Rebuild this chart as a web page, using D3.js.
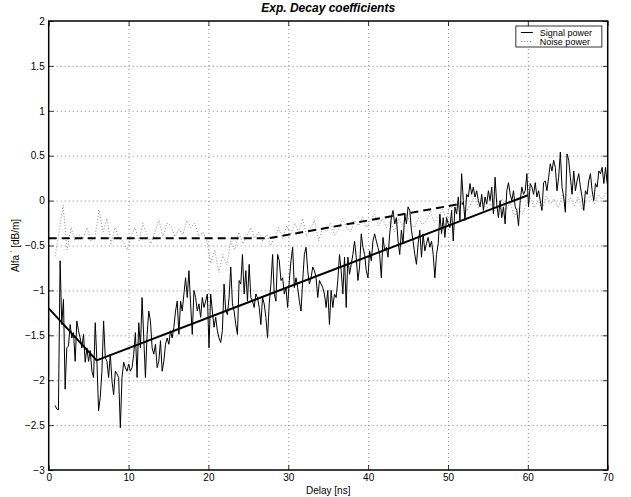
<!DOCTYPE html>
<html>
<head>
<meta charset="utf-8">
<script src="https://cdn.jsdelivr.net/npm/d3@7"></script>
<style>
  body { margin: 0; background: #fff; }
  svg { font-family: "Liberation Sans", Arial, Helvetica, sans-serif; }
  .grid line { stroke: #7a7a7a; stroke-dasharray: 1,3; stroke-width: 0.9; }
  .grid .domain { display: none; }
  .axis .domain { display: none; }
  .axis line { stroke: #000; stroke-width: 0.8; }
  .axis text { font-size: 10px; fill: #000; }
</style>
</head>
<body>
<div id="chart"></div>
<script>
// Axis ticks
const xTicks = [0, 10, 20, 30, 40, 50, 60, 70];
const yTicks = [-3, -2.5, -2, -1.5, -1, -0.5, 0, 0.5, 1, 1.5, 2];

// Signal power (sampled every signalStep ns starting at signalStart)
const signalStart = 0.8;
const signalStep = 0.2095;
const signalPower = [
  -2.28, -2.32, -2.33, -0.67, -1.38, -1.10, -2.10, -1.64, -1.62, -1.38,
  -1.53, -1.47, -1.79, -1.34, -1.45,
  -1.53, -1.64, -1.49, -1.80, -1.64, -1.79, -1.67, -1.90, -1.97, -1.36,
  -1.79, -2.34, -2.19, -1.90, -1.34, -1.75, -1.79, -1.97, -1.71, -2.01,
  -2.16, -1.90, -1.93, -1.97, -2.53, -1.97, -1.80, -1.86, -1.90, -1.82,
  -1.90, -1.86, -1.71, -1.47, -1.97, -1.36, -1.64, -1.08, -1.53, -1.97,
  -1.49, -1.23, -1.34, -1.64, -1.71, -1.60, -1.86, -1.79, -1.56, -1.90,
  -1.79,
  -1.60,
  -1.53, -1.60, -1.45, -1.53, -1.41, -1.23, -1.12, -1.49, -1.12, -1.23,
  -1.04, -0.86, -1.08, -0.78, -1.15, -1.49, -1.00, -1.08, -1.23, -1.15,
  -1.30, -1.08, -1.19, -1.12, -1.04, -1.64, -1.04, -1.23, -1.41, -1.30,
  -1.45, -1.53, -1.58, -1.45, -0.93, -1.23, -1.27, -1.08, -0.74, -1.15,
  -1.23, -1.38, -1.49, -0.89, -0.93, -0.60, -1.04, -0.78, -1.12, -0.71,
  -1.08, -1.12, -1.19, -1.04, -1.08, -1.19, -1.38, -1.08, -1.15, -1.30,
  -1.53, -1.15, -0.93, -0.60, -1.04, -1.12,
  -0.60, -0.67, -0.89, -0.86, -1.04, -0.97, -1.19, -0.89, -0.67, -0.52,
  -0.97, -0.86, -0.97, -1.12, -1.23, -0.89, -0.60, -0.52, -0.78, -0.93,
  -0.86, -0.74, -0.78, -0.86, -1.08, -0.89, -0.93, -0.97, -1.04, -1.19,
  -1.00, -1.38, -1.00, -1.19, -1.04, -1.08, -0.89, -0.60, -0.78, -1.04,
  -0.63, -1.19, -0.63, -0.82, -0.71, -0.60, -0.45, -0.63, -0.89, -0.74,
  -0.37, -0.52, -0.60, -0.78, -0.86, -0.56, -0.67, -0.45, -0.37, -0.45,
  -0.52, -0.60, -0.86, -0.41, -0.56, -0.52, -0.63,
  -0.37, -0.19, -0.11, -0.26, -0.19, -0.45, -0.60, -0.33, -0.48, -0.15,
  -0.26, -0.07, -0.11, -0.33, -0.45, -0.60, -0.71, -0.48, -0.33, -0.63,
  -0.37, -0.56, -0.48, -0.41, -0.52, -0.45, -0.60, -0.86, -0.60, -0.48,
  -0.15, -0.37, -0.19, -0.41, -0.19, -0.26, -0.30, -0.11, -0.45, -0.07,
  -0.15, 0.04, -0.22, 0.30, 0.00, -0.22, 0.07, 0.04, 0.19, 0.07,
  0.15, 0.04, 0.11, 0.00, -0.07, 0.07, -0.11, 0.04, -0.04, 0.11,
  0.00, 0.15, -0.15, 0.26, -0.04, -0.19,
  0.00, -0.19, -0.07, -0.26, 0.11, 0.20, 0.07, 0.00, 0.11, -0.07,
  -0.11, -0.28, 0.00, 0.15, 0.07, 0.11, 0.30, -0.07, 0.19, 0.15,
  0.07, 0.20, 0.04, 0.11, 0.00, -0.11, 0.20, 0.22, 0.11, 0.26,
  0.41, 0.33, 0.45, 0.37, 0.11, 0.26, 0.54, 0.15, 0.04, -0.13,
  0.52, 0.45, 0.26, 0.07, 0.33, 0.11, 0.22, 0.30, 0.15, 0.04,
  -0.11, 0.11, 0.07, 0.22, 0.30, 0.11, 0.00, 0.19, 0.15, 0.33,
  0.30, 0.37, 0.19, 0.37, 0.19
];

// Noise power (sampled every noiseStep ns starting at noiseStart)
const noiseStart = 0.8;
const noiseStep = 0.5;
const noisePower = [
  -0.62, -0.35, -0.05, -0.55, -0.30, -0.45, -0.38, -0.42, -0.30, -0.45,
  -0.40, -0.10, -0.35, -0.20, -0.48, -0.30, -0.42, -0.45, -0.55, -0.40,
  -0.30, -0.45, -0.25, -0.38, -0.48, -0.35, -0.22, -0.40, -0.25, -0.28,
  -0.40, -0.32, -0.38, -0.22, -0.30, -0.25, -0.40, -0.35, -0.45, -0.70,
  -0.55, -0.80, -0.60, -0.72, -0.45, -0.55, -0.35, -0.48, -0.40, -0.30,
  -0.42, -0.35, -0.45, -0.38, -0.50, -0.40, -0.30, -0.42, -0.28, -0.38,
  -0.25, -0.35, -0.20, -0.40, -0.30, -0.22, -0.45, -0.30, -0.35, -0.25,
  -0.38, -0.32, -0.20, -0.30, -0.35, -0.22, -0.28, -0.18, -0.30, -0.22,
  -0.15, -0.28, -0.20, -0.30, -0.22, -0.35, -0.20, -0.28, -0.15, -0.25,
  -0.30, -0.20, -0.27, -0.22, -0.12, -0.25, -0.18, -0.10, -0.20, -0.05,
  -0.15, -0.08, -0.02, -0.12, -0.05, 0.05, -0.08, 0.00, -0.10, -0.03,
  -0.12, -0.05, 0.02, -0.10, -0.02, -0.18, -0.08, -0.15, -0.05, 0.03,
  -0.08, 0.00, -0.10, 0.05, -0.04, 0.02, -0.08, 0.06, -0.02, 0.03,
  -0.06, 0.04, -0.10, 0.00, 0.05, -0.04, 0.06, 0.02, 0.08
];

// Piecewise linear fits
const signalFitDelay = [0, 6, 60];
const signalFitValue = [-1.2, -1.78, 0.06];
const noiseFitDelay = [0, 27.5, 52];
const noiseFitValue = [-0.42, -0.42, -0.03];

// Legend entries
const legendLabels = ["Signal power", "Noise power"];

// Set dimensions and margins
const margin = { top: 21, right: 23.3, bottom: 27, left: 48.7 };
const width = 631 - margin.left - margin.right;
const height = 497 - margin.top - margin.bottom;

const svg = d3.select('#chart')
    .append('svg')
    .attr('width', 631)
    .attr('height', 497)
    .append('g')
    .attr('transform', `translate(${margin.left},${margin.top})`);

// Scales
const x = d3.scaleLinear().domain([0, 70]).range([0, width]);
const y = d3.scaleLinear().domain([-3, 2]).range([height, 0]);
const fmt = d3.format("~g");

// Grid lines
svg.append("g")
    .attr("class", "grid")
    .attr("transform", `translate(0,${height})`)
    .call(d3.axisBottom(x).tickValues(xTicks.slice(1, -1)).tickSize(-height).tickFormat(""));
svg.append("g")
    .attr("class", "grid")
    .call(d3.axisLeft(y).tickValues(yTicks.slice(1, -1)).tickSize(-width).tickFormat(""));

// Clip path for data
svg.append("defs").append("clipPath")
    .attr("id", "clip")
    .append("rect")
    .attr("width", width)
    .attr("height", height);

const plot = svg.append("g").attr("clip-path", "url(#clip)");

const line = d3.line()
    .x(d => x(d[0]))
    .y(d => y(d[1]));

const signalData = signalPower.map((v, i) => [signalStart + i * signalStep, v]);
const noiseData = noisePower.map((v, i) => [noiseStart + i * noiseStep, v]);

// Noise power (dotted)
plot.append("path")
    .datum(noiseData)
    .attr("d", line)
    .attr("fill", "none")
    .attr("stroke", "#7a7a7a")
    .attr("stroke-width", 0.9)
    .attr("stroke-dasharray", "1,2");

// Signal power
plot.append("path")
    .datum(signalData)
    .attr("d", line)
    .attr("fill", "none")
    .attr("stroke", "#000")
    .attr("stroke-width", 1)
    .attr("stroke-linejoin", "round");

// Fits
plot.append("path")
    .datum(noiseFitDelay.map((d, i) => [d, noiseFitValue[i]]))
    .attr("d", line)
    .attr("fill", "none")
    .attr("stroke", "#000")
    .attr("stroke-width", 2)
    .attr("stroke-dasharray", "8,5");

plot.append("path")
    .datum(signalFitDelay.map((d, i) => [d, signalFitValue[i]]))
    .attr("d", line)
    .attr("fill", "none")
    .attr("stroke", "#000")
    .attr("stroke-width", 2);

// Axes with inward ticks
svg.append('g')
    .attr('class', 'axis')
    .attr('transform', `translate(0,${height})`)
    .call(d3.axisBottom(x).tickValues(xTicks).tickSizeInner(-5).tickSizeOuter(0).tickPadding(4).tickFormat(fmt));
svg.append('g')
    .attr('class', 'axis')
    .call(d3.axisTop(x).tickValues(xTicks).tickSizeInner(-5).tickSizeOuter(0).tickFormat(""));
svg.append('g')
    .attr('class', 'axis')
    .call(d3.axisLeft(y).tickValues(yTicks).tickSizeInner(-5).tickSizeOuter(0).tickPadding(4).tickFormat(fmt));
svg.append('g')
    .attr('class', 'axis')
    .attr('transform', `translate(${width},0)`)
    .call(d3.axisRight(y).tickValues(yTicks).tickSizeInner(-5).tickSizeOuter(0).tickFormat(""));

// Box
svg.append("rect")
    .attr("width", width)
    .attr("height", height)
    .attr("fill", "none")
    .attr("stroke", "#000")
    .attr("stroke-width", 1.5);

// Title
svg.append("text")
    .attr("x", width / 2)
    .attr("y", -9)
    .attr("text-anchor", "middle")
    .style("font-size", "12px")
    .style("font-weight", "bold")
    .style("font-style", "italic")
    .text("Exp. Decay coefficients");

// X label
svg.append("text")
    .attr("x", width / 2)
    .attr("y", height + 24)
    .attr("text-anchor", "middle")
    .style("font-size", "10px")
    .text("Delay [ns]");

// Y label
const ylab = svg.append("text")
    .attr("transform", `translate(${-30},${height / 2}) rotate(-90)`)
    .attr("text-anchor", "middle")
    .style("font-size", "10px");
ylab.append("tspan").text("Alfa ");
ylab.append("tspan").attr("dy", -4).style("font-size", "8px").text("'");
ylab.append("tspan").attr("dy", 4).text("  [dB/m]");

// Legend
const legend = svg.append("g")
    .attr("transform", `translate(${x(58.5)},5)`);
legend.append("rect")
    .attr("width", 86)
    .attr("height", 21)
    .attr("fill", "#fff")
    .attr("stroke", "#000")
    .attr("stroke-width", 0.8);
legendLabels.forEach((label, i) => {
    legend.append("line")
        .attr("x1", 5).attr("x2", 17)
        .attr("y1", 6.5 + i * 9).attr("y2", 6.5 + i * 9)
        .attr("stroke", i === 0 ? "#000" : "#7a7a7a")
        .attr("stroke-width", 1)
        .attr("stroke-dasharray", i === 0 ? null : "1,2");
    legend.append("text")
        .attr("x", 24)
        .attr("y", 6.5 + i * 9)
        .attr("dy", "0.35em")
        .style("font-size", "9px")
        .text(label);
});
</script>
</body>
</html>
